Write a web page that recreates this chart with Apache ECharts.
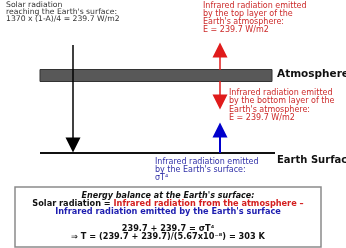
<!DOCTYPE html>
<html>
<head>
<meta charset="utf-8">
<script src="https://cdn.jsdelivr.net/npm/echarts@6/dist/echarts.min.js"></script>
<style>
  html, body { margin: 0; padding: 0; background: #fff; }
  #main { width: 346px; height: 248px; }
</style>
</head>
<body>
<div id="main"></div>
<script>
// diagram units: x 0..346, y 0..248 (top to bottom)
var solarArrow = [[73, 45], [73, 145]];
var topIrArrow = [[220, 70], [220, 50]];
var bottomIrArrow = [[220, 81], [220, 102]];
var surfaceIrArrow = [[220, 153], [220, 130]];
var surfaceLine = [[40, 153], [275, 153]];
var atmosphereBand = [40, 69.5, 272, 81.5];
var balanceBox = [15, 187, 321, 247];

var solarText = ['Solar radiation', "reaching the Earth's surface:", '1370 x (1-A)/4 = 239.7 W/m2'];
var topText = ['Infrared radiation emitted', 'by the top layer of the', "Earth's atmosphere:", 'E = 239.7 W/m2'];
var bottomText = ['Infrared radiation emitted', 'by the bottom layer of the', "Earth's atmosphere:", 'E = 239.7 W/m2'];
var surfaceText = ['Infrared radiation emitted', "by the Earth's surface:", '\u03c3T\u2074'];

var FONT = '"DejaVu Sans", Verdana, sans-serif';

var myChart = echarts.init(document.getElementById('main'));

function rectItem(params, api) {
    var p1 = api.coord([api.value(0), api.value(1)]);
    var p2 = api.coord([api.value(2), api.value(3)]);
    var kind = api.value(4);
    return {
        type: 'rect',
        shape: { x: p1[0], y: p1[1], width: p2[0] - p1[0], height: p2[1] - p1[1] },
        style: kind === 1
            ? { fill: '#585858', stroke: '#333', lineWidth: 1 }
            : { fill: 'none', stroke: '#8a8a8a', lineWidth: 1.5 }
    };
}

function arrow(coords, color, width) {
    return {
        type: 'lines',
        coordinateSystem: 'cartesian2d',
        symbol: ['none', 'triangle'],
        symbolSize: [11, 15],
        lineStyle: { color: color, width: width, opacity: 1 },
        silent: true,
        z: 5,
        data: [{ coords: coords }]
    };
}

function textBlock(x, y, lines, color, size, lh) {
    return {
        type: 'text',
        left: x, top: y,
        style: { text: lines.join('\n'), fill: color, font: size + 'px ' + FONT, lineHeight: lh }
    };
}

option = {
    animation: false,
    grid: { left: 0, right: 0, top: 0, bottom: 0 },
    xAxis: { type: 'value', min: 0, max: 346, show: false },
    yAxis: { type: 'value', min: 0, max: 248, inverse: true, show: false },
    series: [
        {
            type: 'custom',
            renderItem: rectItem,
            silent: true,
            data: [atmosphereBand.concat([1]), balanceBox.concat([2])]
        },
        {
            type: 'lines',
            coordinateSystem: 'cartesian2d',
            symbol: 'none',
            lineStyle: { color: '#111', width: 2, opacity: 1 },
            silent: true,
            data: [{ coords: surfaceLine }]
        },
        arrow(solarArrow, '#000', 1.5),
        arrow(topIrArrow, '#e01b1b', 1.5),
        arrow(bottomIrArrow, '#e01b1b', 1.5),
        arrow(surfaceIrArrow, '#0000cc', 2)
    ],
    graphic: [
        textBlock(6, 1, solarText, '#333', 7.7, 6.8),
        textBlock(203, 2, topText, '#cc2a2a', 8, 8),
        textBlock(229, 88.5, bottomText, '#cc2a2a', 8, 8.5),
        textBlock(155, 157.5, surfaceText, '#3030a8', 8, 8),
        {
            type: 'text', left: 277, top: 69,
            style: { text: 'Atmosphere', fill: '#111', font: 'bold 10.5px ' + FONT }
        },
        {
            type: 'text', left: 277, top: 155.5,
            style: { text: 'Earth Surface', fill: '#111', font: 'bold 10px ' + FONT }
        },
        {
            type: 'text', x: 168, y: 192,
            style: {
                text: "{i|Energy balance at the Earth's surface:}\n" +
                      '{k|Solar radiation = }{r|Infrared radiation from the atmosphere \u2013}\n' +
                      "{b|Infrared radiation emitted by the Earth's surface}\n{g| }\n" +
                      '{k|239.7 + 239.7 = \u03c3T\u2074}\n' +
                      '{k|\u21d2 T = (239.7 + 239.7)/(5.67x10\u207b\u2078) = 303 K}',
                align: 'center',
                lineHeight: 8,
                rich: {
                    i: { font: 'italic bold 8px ' + FONT, fill: '#111', lineHeight: 7.5 },
                    k: { font: 'bold 8.2px ' + FONT, fill: '#111', lineHeight: 8 },
                    r: { font: 'bold 8.2px ' + FONT, fill: '#d42020', lineHeight: 8 },
                    b: { font: 'bold 8.2px ' + FONT, fill: '#1e1eb0', lineHeight: 8 },
                    g: { font: '7px ' + FONT, lineHeight: 9 }
                }
            }
        }
    ]
};
myChart.setOption(option, true);
</script>
</body>
</html>
